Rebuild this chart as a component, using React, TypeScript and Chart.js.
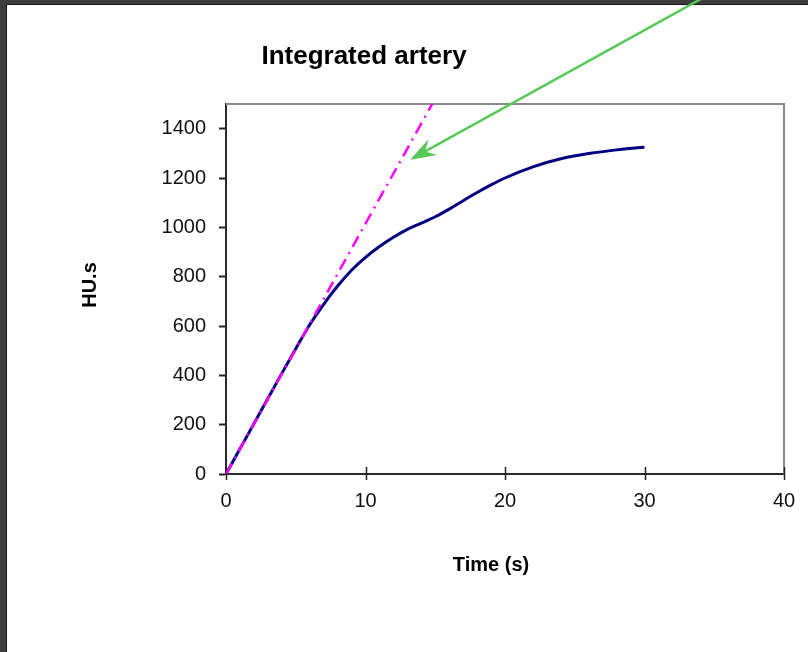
import { useEffect, useRef } from "react";
import { Chart, registerables } from "chart.js";

Chart.register(...registerables);

// ---- data ----
const chartTitle = "Integrated artery";
const xAxisTitle = "Time (s)";
const yAxisTitle = "HU.s";

const arteryTime = [0, 1, 2, 3, 4, 5, 6, 7, 8, 9, 10, 11, 12, 13, 14, 15, 16, 17, 18, 19, 20, 22, 24, 26, 28, 30];
const arteryHU = [0, 102, 204, 306, 408, 508, 605, 688, 762, 826, 878, 922, 960, 992, 1017, 1043, 1074, 1108, 1141, 1172, 1200, 1245, 1278, 1299, 1314, 1325];

const slopeTime = [0, 5, 10, 14.8];
const slopeHU = [0, 507, 1015, 1502];

const xTickValues = [0, 10, 20, 30, 40];
const yTickValues = [0, 200, 400, 600, 800, 1000, 1200, 1400];

// annotation arrow (data coordinates): tail -> tip
const arrowTail = [36, 1987];
const arrowTip = [13.2, 1274];

const FONT = '"Liberation Sans", Arial, sans-serif';

const decorPlugin = {
  id: "decor",
  beforeDatasetsDraw(chart: any) {
    const { ctx, chartArea: a } = chart;
    ctx.save();
    // gray frame top & right
    ctx.strokeStyle = "#8a8a8a";
    ctx.lineWidth = 2;
    ctx.beginPath();
    ctx.moveTo(a.left, a.top);
    ctx.lineTo(a.right, a.top);
    ctx.lineTo(a.right, a.bottom);
    ctx.stroke();
    // crossing x ticks
    const xs = chart.scales.x;
    ctx.strokeStyle = "#222";
    ctx.lineWidth = 1.5;
    ctx.beginPath();
    for (const v of xTickValues) {
      const px = Math.round(xs.getPixelForValue(v)) + 0.5;
      ctx.moveTo(px, a.bottom - 7);
      ctx.lineTo(px, a.bottom + 6);
    }
    ctx.stroke();
    ctx.restore();
  },
  afterDraw(chart: any) {
    const { ctx } = chart;
    const xs = chart.scales.x;
    const ys = chart.scales.y;
    ctx.save();
    // arrow
    const tx = xs.getPixelForValue(arrowTip[0]);
    const ty = ys.getPixelForValue(arrowTip[1]);
    const sx = xs.getPixelForValue(arrowTail[0]);
    const sy = ys.getPixelForValue(arrowTail[1]);
    const dx = sx - tx;
    const dy = sy - ty;
    const len = Math.hypot(dx, dy);
    const ux = dx / len;
    const uy = dy / len;
    const nx = -uy;
    const ny = ux;
    const L = 26;
    const W = 9;
    ctx.strokeStyle = "#58c858";
    ctx.fillStyle = "#58c858";
    ctx.lineWidth = 2.5;
    ctx.beginPath();
    ctx.moveTo(sx, sy);
    ctx.lineTo(tx + ux * L * 0.6, ty + uy * L * 0.6);
    ctx.stroke();
    ctx.beginPath();
    ctx.moveTo(tx, ty);
    ctx.lineTo(tx + ux * L + nx * W, ty + uy * L + ny * W);
    ctx.lineTo(tx + ux * L * 0.65, ty + uy * L * 0.65);
    ctx.lineTo(tx + ux * L - nx * W, ty + uy * L - ny * W);
    ctx.closePath();
    ctx.fill();

    // texts
    ctx.fillStyle = "#000";
    ctx.textAlign = "center";
    ctx.textBaseline = "alphabetic";
    ctx.font = `bold 26px ${FONT}`;
    ctx.fillText(chartTitle, 364, 64);
    ctx.font = `bold 20px ${FONT}`;
    ctx.fillText(xAxisTitle, 491, 571);
    ctx.translate(96, 285);
    ctx.rotate(-Math.PI / 2);
    ctx.fillText(yAxisTitle, 0, 0);
    ctx.restore();
  },
};

export default function App() {
  const canvasRef = useRef<HTMLCanvasElement | null>(null);

  useEffect(() => {
    const canvas = canvasRef.current;
    if (!canvas) return;
    const chart = new Chart(canvas, {
      type: "line",
      data: {
        datasets: [
          {
            label: "slope",
            data: slopeTime.map((t, i) => ({ x: t, y: slopeHU[i] })),
            borderColor: "#ff00ff",
            borderWidth: 2.5,
            borderDash: [12, 6, 2, 6],
            pointRadius: 0,
            fill: false,
            tension: 0,
          },
          {
            label: "artery",
            data: arteryTime.map((t, i) => ({ x: t, y: arteryHU[i] })),
            borderColor: "#000080",
            borderWidth: 3,
            pointRadius: 0,
            fill: false,
            cubicInterpolationMode: "monotone",
          },
        ],
      },
      options: {
        animation: false,
        responsive: false,
        devicePixelRatio: 1,
        layout: { padding: { top: 104, right: 24, bottom: 118, left: 0 } },
        plugins: {
          legend: { display: false },
          tooltip: { enabled: false },
          title: { display: false },
        },
        scales: {
          x: {
            type: "linear",
            position: "bottom",
            min: 0,
            max: 40,
            afterBuildTicks: (s: any) => {
              s.ticks = xTickValues.map((v) => ({ value: v }));
            },
            afterFit: (s: any) => {
              s.height = 60;
              s.paddingLeft = 0;
              s.paddingRight = 0;
            },
            grid: { display: true, drawOnChartArea: false, drawTicks: false },
            border: { display: true, color: "#2a2a2a", width: 2 },
            ticks: {
              padding: 15,
              color: "#111",
              font: { family: FONT, size: 20 },
              maxRotation: 0,
              autoSkip: false,
              callback: (v: any) => String(v),
            },
          },
          y: {
            type: "linear",
            min: 0,
            max: 1500,
            afterBuildTicks: (s: any) => {
              s.ticks = yTickValues.map((v) => ({ value: v }));
            },
            afterFit: (s: any) => {
              s.width = 226;
              s.paddingTop = 0;
              s.paddingBottom = 0;
            },
            grid: {
              display: true,
              drawOnChartArea: false,
              drawTicks: true,
              tickLength: 7,
              tickColor: "#222",
              tickWidth: 2,
            },
            border: { display: true, color: "#2a2a2a", width: 2 },
            ticks: {
              padding: 13,
              color: "#111",
              font: { family: FONT, size: 20 },
              autoSkip: false,
              callback: (v: any) => String(v),
            },
          },
        },
      },
      plugins: [decorPlugin],
    } as any);
    return () => chart.destroy();
  }, []);

  return (
    <div
      style={{
        position: "fixed",
        left: 0,
        top: 0,
        width: 808,
        height: 652,
        background: "#3d3d3d",
        overflow: "hidden",
      }}
    >
      <div
        style={{
          position: "absolute",
          left: 6,
          top: 4,
          width: 802,
          height: 648,
          background: "#fff",
          borderLeft: "1px solid #161616",
          borderTop: "1px solid #161616",
          boxSizing: "border-box",
        }}
      />
      <canvas
        ref={canvasRef}
        width={808}
        height={652}
        style={{ position: "absolute", left: 0, top: 0, width: 808, height: 652 }}
      />
    </div>
  );
}
